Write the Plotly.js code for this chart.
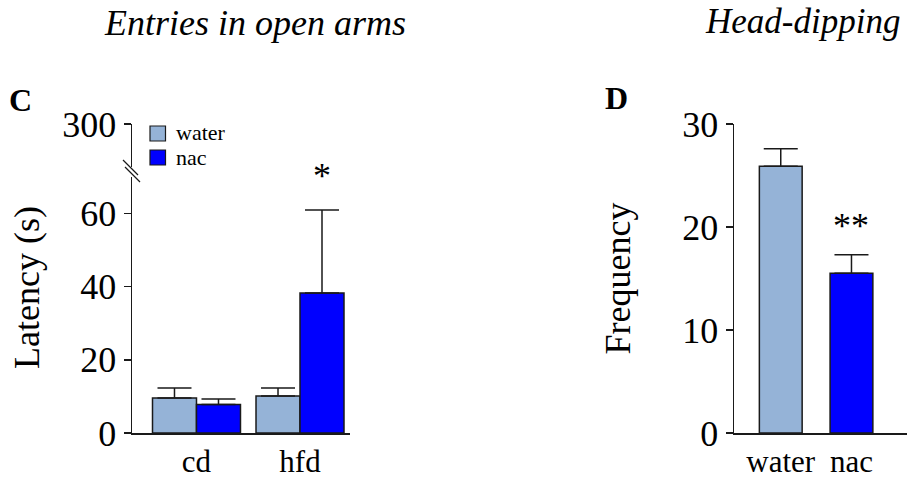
<!DOCTYPE html>
<html>
<head>
<meta charset="utf-8">
<script src="https://cdn.plot.ly/plotly-3.0.1.min.js"></script>
<style>
  html, body { margin: 0; padding: 0; background: #fff; }
  #chart { width: 911px; height: 478px; }
</style>
</head>
<body>
<div id="chart"></div>
<script>
// Panel C: latency of entries in open arms (s), mean + SEM
const dietGroups = ['cd', 'hfd'];
const seriesNames = ['water', 'nac'];
const latencyWater = [9.6, 10.1];
const latencyWaterSem = [2.7, 2.2];
const latencyNac = [7.8, 38.3];
const latencyNacSem = [1.5, 22.7];
const latencyTicks = [0, 20, 40, 60];
const latencyBreakTick = [300];

// Panel D: head-dipping frequency, mean + SEM
const treatments = ['water', 'nac'];
const dipFreq = [25.9, 15.5];
const dipFreqSem = [1.7, 1.8];
const freqTicks = [0, 10, 20, 30];

const colWater = '#95B3D7';
const colNac = '#0000FF';
const serif = 'Liberation Serif, Times New Roman, serif';
const ink = '#1a1a1a';

const W = 911, H = 478;
const px = v => v / W;          // pixel -> paper x
const py = v => 1 - v / H;      // pixel -> paper y

function errBar(arr) {
  return { type: 'data', symmetric: false, array: arr, arrayminus: arr.map(() => 0),
           color: ink, thickness: 1.5, width: 17 };
}

const traces = [
  { type: 'bar', name: seriesNames[0], x: dietGroups, y: latencyWater,
    error_y: errBar(latencyWaterSem), xaxis: 'x', yaxis: 'y',
    marker: { color: colWater, line: { color: ink, width: 1.5 } }, showlegend: false },
  { type: 'bar', name: seriesNames[1], x: dietGroups, y: latencyNac,
    error_y: errBar(latencyNacSem), xaxis: 'x', yaxis: 'y',
    marker: { color: colNac, line: { color: ink, width: 1.5 } }, showlegend: false },
  // empty trace so the upper (broken) segment of the latency axis is drawn
  { type: 'scatter', mode: 'markers', x: [], y: [], xaxis: 'x', yaxis: 'y2',
    showlegend: false, hoverinfo: 'skip' },
  { type: 'bar', x: treatments, y: dipFreq, width: 0.605,
    error_y: errBar(dipFreqSem), xaxis: 'x2', yaxis: 'y3',
    marker: { color: [colWater, colNac], line: { color: ink, width: 1.5 } }, showlegend: false }
];

const axisStyle = {
  showline: true, linecolor: ink, linewidth: 1.5, showgrid: false, zeroline: false,
  ticks: 'outside', ticklen: 7, tickwidth: 1.5, tickcolor: ink,
  tickfont: { family: serif, size: 36, color: '#000' }, fixedrange: true
};

const lowerTop = 70;
const nacOffset = (1 - 0.15) / 4;   // centre of the second bar within a group

function paperText(text, x, y, size, extra) {
  return Object.assign({ text: text, xref: 'paper', yref: 'paper', x: px(x), y: py(y),
    xanchor: 'center', yanchor: 'middle', showarrow: false,
    font: { family: serif, size: size, color: '#000' } }, extra || {});
}

const annotations = [
  paperText('<i>Entries in open arms</i>', 255, 23, 36),
  paperText('<i>Head-dipping</i>', 802, 22, 35),
  paperText('<b>C</b>', 20, 100, 32),
  paperText('<b>D</b>', 616, 98, 32),
  paperText('Latency (s)', 27, 288, 36, { textangle: -90 }),
  { text: '*', xref: 'x', yref: 'y', x: 1 + nacOffset, y: latencyNac[1] + latencyNacSem[1],
    xanchor: 'center', yanchor: 'bottom', yshift: 12, showarrow: false,
    font: { family: serif, size: 36, color: '#000' } },
  { text: '**', xref: 'x2', yref: 'y3', x: 1, y: dipFreq[1] + dipFreqSem[1],
    xanchor: 'center', yanchor: 'bottom', yshift: 7, showarrow: false,
    font: { family: serif, size: 36, color: '#000' } }
];

// Hand-drawn legend for panel C
const legendColours = [colWater, colNac];
const shapes = [];
seriesNames.forEach((name, i) => {
  const top = 126 + i * 24;
  shapes.push({ type: 'rect', xref: 'paper', yref: 'paper',
    x0: px(150), x1: px(165.5), y0: py(top), y1: py(top + 15),
    fillcolor: legendColours[i], line: { color: ink, width: 1.2 } });
  annotations.push(paperText(name, 174, top + 7, 22, { xanchor: 'left' }));
});

// Axis-break marks on panel C's y axis
[[0, 0], [2, 7]].forEach(([dx, dy]) => {
  shapes.push({ type: 'line', xref: 'paper', yref: 'paper',
    x0: px(123 + dx), y0: py(160 + dy), x1: px(138 + dx), y1: py(175 + dy),
    line: { color: ink, width: 1.3 } });
});

const layout = {
  width: W, height: H,
  margin: { l: 0, r: 0, t: 0, b: 0 },
  paper_bgcolor: '#fff', plot_bgcolor: 'rgba(0,0,0,0)',
  font: { family: serif, color: '#000' },
  barmode: 'group', bargap: 0.15, bargroupgap: 0,
  showlegend: false,
  xaxis: Object.assign({}, axisStyle, {
    domain: [px(132), px(350)], anchor: 'y', type: 'category',
    range: [-0.623, 1.483], ticks: '', tickfont: { family: serif, size: 31, color: '#000' }
  }),
  yaxis: Object.assign({}, axisStyle, {
    domain: [py(433), py(177)], anchor: 'x', range: [0, lowerTop], tickvals: latencyTicks
  }),
  yaxis2: Object.assign({}, axisStyle, {
    domain: [py(167), py(124)], anchor: 'x', range: [288, 300], tickvals: latencyBreakTick
  }),
  xaxis2: Object.assign({}, axisStyle, {
    domain: [px(734), px(907)], anchor: 'y3', type: 'category',
    range: [-0.661, 1.785], ticks: '', tickfont: { family: serif, size: 31, color: '#000' }
  }),
  yaxis3: Object.assign({}, axisStyle, {
    domain: [py(433), py(124)], anchor: 'x2', range: [0, 30], tickvals: freqTicks,
    title: { text: 'Frequency', font: { family: serif, size: 36, color: '#000' }, standoff: 40 }
  }),
  annotations: annotations,
  shapes: shapes
};

Plotly.newPlot('chart', traces, layout, { staticPlot: true, displayModeBar: false });
</script>
</body>
</html>
